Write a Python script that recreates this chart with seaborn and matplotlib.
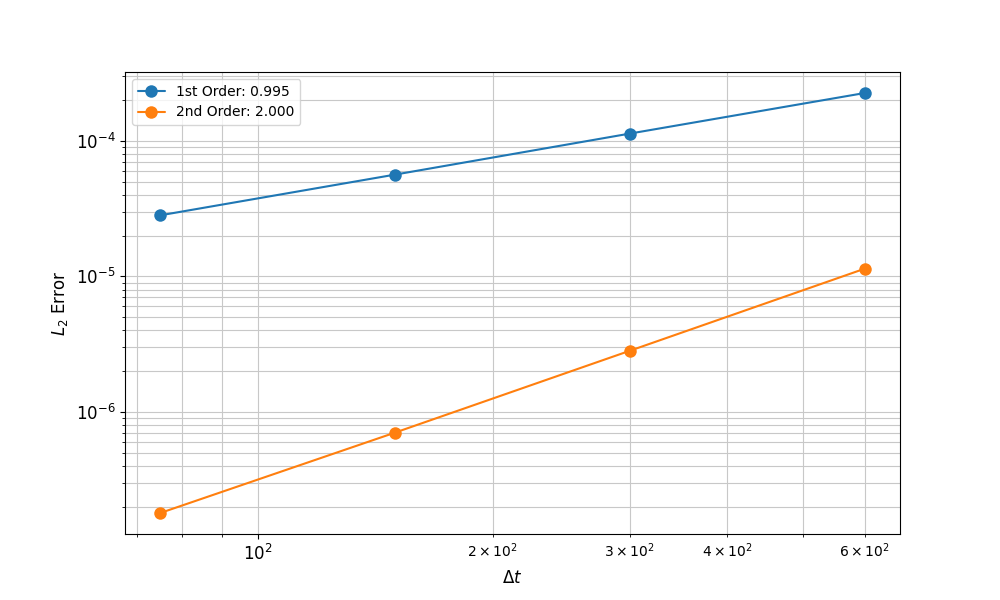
import numpy as np
import pandas as pd
import matplotlib
matplotlib.use("Agg")
import matplotlib.pyplot as plt
import seaborn as sns

# ── Data ──────────────────────────────────────────────────────────────────────
dt = [75, 150, 300, 600]
err_first = [2.82e-5, 5.63e-5, 1.13e-4, 2.25e-4]
err_second = [1.8e-7, 7.05e-7, 2.83e-6, 1.14e-5]
labels = ["1st Order: 0.995", "2nd Order: 2.000"]

df = pd.DataFrame({
    "dt": dt * 2,
    "err": err_first + err_second,
    "scheme": [labels[0]] * len(dt) + [labels[1]] * len(dt),
})

# ── Plot ──────────────────────────────────────────────────────────────────────
sns.set_style("ticks")
plt.rcParams["font.family"] = ["DejaVu Sans"]
plt.rcParams.update({"text.color": "black", "axes.labelcolor": "black",
                     "xtick.color": "black", "ytick.color": "black"})

fig, ax = plt.subplots(figsize=(10, 6), dpi=100)
sns.lineplot(data=df, x="dt", y="err", hue="scheme", marker="o",
             markersize=9, markeredgewidth=0, palette=["#1f77b4", "#ff7f0e"],
             ax=ax)
ax.set_xscale("log")
ax.set_yscale("log")
ax.grid(True, which="both", color="#c8c8c8", lw=0.8)
ax.set_xlabel(r"$\Delta t$", fontsize=12)
ax.set_ylabel(r"$L_2$ Error", fontsize=12)
ax.tick_params(which="major", labelsize=12)
ax.legend(loc="upper left", fontsize=10)
for s in ax.spines.values():
    s.set_visible(True)
    s.set_color("black")

plt.savefig("out.png", dpi=100)
plt.close()
